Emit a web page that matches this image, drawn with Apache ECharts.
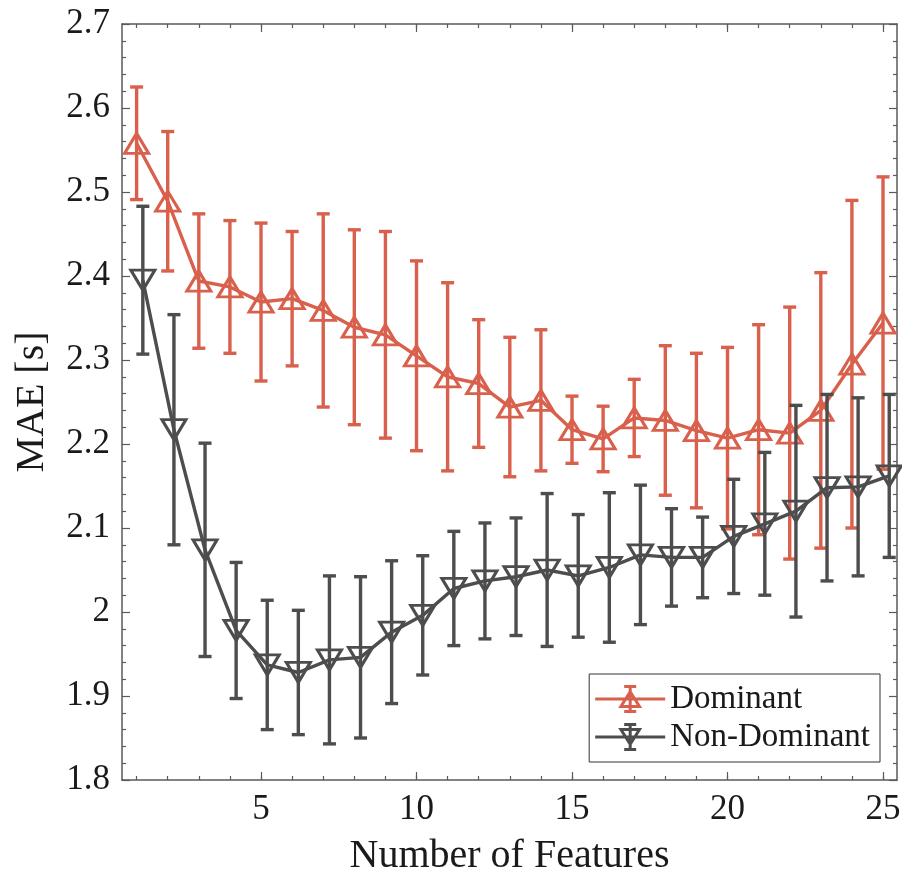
<!DOCTYPE html>
<html>
<head>
<meta charset="utf-8">
<title>MAE vs number of features</title>
<script src="https://cdn.jsdelivr.net/npm/echarts@6/dist/echarts.min.js"></script>
<style>
  html, body { margin: 0; padding: 0; background: #fff; }
  #main { width: 902px; height: 874px; }
</style>
</head>
<body>
<div id="main"></div>
<script>
// data
var numFeatures = [1, 2, 3, 4, 5, 6, 7, 8, 9, 10, 11, 12, 13, 14, 15, 16, 17, 18, 19, 20, 21, 22, 23, 24, 25];
var dominantMae = [2.558, 2.489, 2.394, 2.387, 2.369, 2.373, 2.359, 2.339, 2.330, 2.305, 2.280, 2.272, 2.244,
  2.252, 2.217, 2.206, 2.231, 2.228, 2.216, 2.207, 2.217, 2.213, 2.240, 2.295, 2.344];
var dominantErr = [0.067, 0.083, 0.080, 0.079, 0.094, 0.080, 0.115, 0.116, 0.123, 0.113, 0.112, 0.076, 0.083,
  0.084, 0.040, 0.039, 0.046, 0.089, 0.092, 0.108, 0.125, 0.150, 0.164, 0.195, 0.174];
var nonDominantMae = [2.395, 2.217, 2.074, 1.978, 1.937, 1.928, 1.943, 1.946, 1.976, 1.996, 2.028, 2.037, 2.042,
  2.050, 2.043, 2.053, 2.068, 2.065, 2.065, 2.090, 2.105, 2.120, 2.148, 2.149, 2.162];
var nonDominantErr = [0.088, 0.137, 0.127, 0.081, 0.077, 0.074, 0.100, 0.096, 0.085, 0.071, 0.068, 0.069, 0.070,
  0.091, 0.073, 0.089, 0.083, 0.058, 0.048, 0.068, 0.085, 0.126, 0.111, 0.106, 0.097];
var xTickLabels = [5, 10, 15, 20, 25];

var red = '#D8604C';
var grey = '#4D4D4D';
var axisColor = '#5a5a5a';
var font = "'Liberation Serif', 'Times New Roman', serif";
var ndShift = 0.2; // non-dominant drawn a little to the right, like the original

// legend icons: line + error bar + hollow triangle (70 x 28 box)
var barPath = 'M0 12.5L70 12.5L70 15.5L0 15.5Z' +
  'M33.5 1L36.5 1L36.5 27L33.5 27Z' +
  'M29 0L41 0L41 3L29 3Z' +
  'M29 25L41 25L41 28L29 28Z';
var iconUp = 'path://' + barPath + 'M35 4L47 23L23 23Z' + 'M35 9.6L28.4 20L41.6 20Z';
var iconDown = 'path://' + barPath + 'M23 5L47 5L35 24Z' + 'M28.4 8L35 18.4L41.6 8Z';

var chart = echarts.init(document.getElementById('main'), null, { renderer: 'canvas' });

function lineData(mae, shift) {
  var out = [];
  for (var i = 0; i < numFeatures.length; i++) {
    out.push([numFeatures[i] + shift, mae[i]]);
  }
  return out;
}
function errData(mae, err, shift) {
  var out = [];
  for (var i = 0; i < numFeatures.length; i++) {
    out.push([numFeatures[i] + shift, mae[i] - err[i], mae[i] + err[i]]);
  }
  return out;
}

// error bar with caps
function errorBar(color) {
  return function (params, api) {
    var x = api.value(0);
    var top = api.coord([x, api.value(2)]);
    var bot = api.coord([x, api.value(1)]);
    var half = 6.5;
    var st = { stroke: color, lineWidth: 3.4, fill: null };
    return {
      type: 'group',
      children: [
        { type: 'line', shape: { x1: top[0], y1: top[1], x2: bot[0], y2: bot[1] }, style: st },
        { type: 'line', shape: { x1: top[0] - half, y1: top[1], x2: top[0] + half, y2: top[1] }, style: st },
        { type: 'line', shape: { x1: bot[0] - half, y1: bot[1], x2: bot[0] + half, y2: bot[1] }, style: st }
      ]
    };
  };
}

var xMin = 0.53, xMax = 25.45;
function xAx(pos, major, withLabels) {
  return {
    type: 'value',
    min: xMin,
    max: xMax,
    position: pos,
    axisLine: { show: !major, onZero: false, lineStyle: { color: axisColor, width: 1.5 } },
    axisTick: {
      inside: true,
      length: major ? 8 : 4,
      customValues: major ? xTickLabels : numFeatures,
      lineStyle: { color: axisColor, width: 1.2 }
    },
    axisLabel: withLabels ? {
      customValues: xTickLabels,
      fontFamily: font, fontSize: 35, color: '#1a1a1a', margin: 12
    } : { show: false },
    splitLine: { show: false }
  };
}
function yAx(pos, withLabels) {
  return {
    type: 'value',
    min: 1.8,
    max: 2.7,
    interval: 0.1,
    position: pos,
    axisLine: { show: true, onZero: false, lineStyle: { color: axisColor, width: 1.5 } },
    axisTick: { inside: true, length: 8, lineStyle: { color: axisColor, width: 1.2 } },
    minorTick: { show: true, splitNumber: 5, length: 4, lineStyle: { color: axisColor, width: 1.2 } },
    axisLabel: withLabels ? { fontFamily: font, fontSize: 35, color: '#1a1a1a', margin: 12 } : { show: false },
    splitLine: { show: false },
    minorSplitLine: { show: false }
  };
}

var xBottom = xAx('bottom', false, true);
xBottom.name = 'Number of Features';
xBottom.nameLocation = 'middle';
xBottom.nameGap = 56;
xBottom.nameTextStyle = { fontFamily: font, fontSize: 40, color: '#1a1a1a' };

var yLeft = yAx('left', true);
yLeft.name = 'MAE [s]';
yLeft.nameLocation = 'middle';
yLeft.nameGap = 70;
yLeft.nameTextStyle = { fontFamily: font, fontSize: 40, color: '#1a1a1a' };

chart.setOption({
  backgroundColor: '#fff',
  animation: false,
  grid: { left: 122, top: 24, width: 775, height: 756, containLabel: false, outerBoundsMode: 'none' },
  xAxis: [xBottom, xAx('bottom', true, false), xAx('top', false, false), xAx('top', true, false)],
  yAxis: [yLeft, yAx('right', false)],
  legend: {
    data: [
      { name: 'Dominant', icon: iconUp, itemStyle: { color: red, borderWidth: 0 } },
      { name: 'Non-Dominant', icon: iconDown, itemStyle: { color: grey, borderWidth: 0 } }
    ],
    orient: 'vertical',
    right: 22,
    bottom: 112,
    itemWidth: 70,
    itemHeight: 28,
    itemGap: 4,
    padding: [8, 10, 8, 6],
    borderColor: '#333',
    borderWidth: 1,
    backgroundColor: '#fff',
    symbolRotate: 0,
    symbolKeepAspect: false,
    textStyle: { fontFamily: font, fontSize: 33, lineHeight: 34, color: '#1a1a1a' }
  },
  series: [
    {
      name: 'Dominant error',
      type: 'custom',
      renderItem: errorBar(red),
      encode: { x: 0, y: [1, 2] },
      data: errData(dominantMae, dominantErr, 0),
      z: 2
    },
    {
      name: 'Dominant',
      type: 'line',
      data: lineData(dominantMae, 0),
      symbol: 'triangle',
      symbolSize: [24, 20],
      lineStyle: { color: red, width: 3.4 },
      itemStyle: { color: 'rgba(255,255,255,0)', borderColor: red, borderWidth: 3 },
      z: 3
    },
    {
      name: 'Non-Dominant error',
      type: 'custom',
      renderItem: errorBar(grey),
      encode: { x: 0, y: [1, 2] },
      data: errData(nonDominantMae, nonDominantErr, ndShift),
      z: 4
    },
    {
      name: 'Non-Dominant',
      type: 'line',
      data: lineData(nonDominantMae, ndShift),
      symbol: 'triangle',
      symbolRotate: 180,
      symbolSize: [24, 20],
      lineStyle: { color: grey, width: 3.4 },
      itemStyle: { color: 'rgba(255,255,255,0)', borderColor: grey, borderWidth: 3 },
      z: 5
    }
  ]
});
</script>
</body>
</html>
